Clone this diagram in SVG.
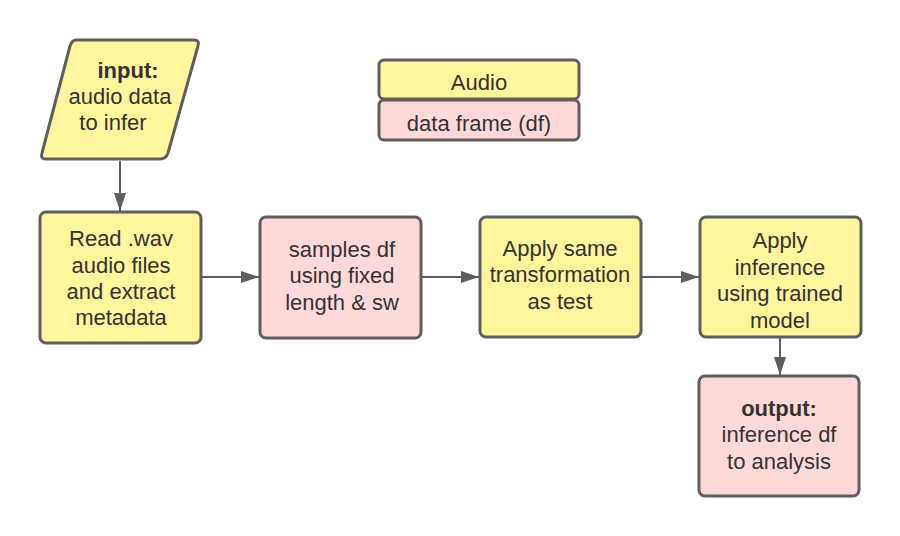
<svg xmlns="http://www.w3.org/2000/svg" width="900" height="536" viewBox="0 0 900 536">
<defs>
<style>
.y{fill:#fff59d;stroke:#5e5e5e;stroke-width:3}
.p{fill:#ffd9da;stroke:#5e5e5e;stroke-width:3}
text{font-family:"Liberation Sans",Arial,sans-serif;font-size:22px;fill:#333;text-anchor:middle}
.b{font-weight:bold}
.c{stroke:#5e5e5e;stroke-width:2;fill:none;marker-end:url(#a)}
</style>
<marker id="a" markerWidth="18" markerHeight="12" refX="18" refY="6" orient="auto" markerUnits="userSpaceOnUse" viewBox="0 0 18 12">
<path d="M0,0 L18,6 L0,12 z" fill="#5e5e5e"/>
</marker>
</defs>
<rect width="900" height="536" fill="#fff"/>
<g id="connectors">
<path class="c" d="M120,161 V211"/>
<path class="c" d="M202,277 H259"/>
<path class="c" d="M422,277 H479"/>
<path class="c" d="M642,277 H699"/>
<path class="c" d="M780,338 V375"/>
</g>
<g id="input">
<path class="y" d="M76,40 H194 Q200,40 198,46 L168,153 Q166,159 160,159 H46 Q40,159 42,153 L70,46 Q72,40 76,40 Z"/>
<text x="128" y="78" class="b">input:</text>
<text x="120" y="104">audio data</text>
<text x="113" y="130">to infer</text>
</g>
<g id="legend-audio">
<rect class="y" x="379" y="60" width="200" height="39" rx="5"/>
<text x="479" y="90">Audio</text>
</g>
<g id="legend-df">
<rect class="p" x="379" y="100" width="200" height="40" rx="5"/>
<text x="479" y="131">data frame (df)</text>
</g>
<g id="read">
<rect class="y" x="40" y="212" width="161" height="131" rx="6"/>
<text x="121" y="246">Read .wav</text>
<text x="121" y="273">audio files</text>
<text x="121" y="299">and extract</text>
<text x="121" y="325">metadata</text>
</g>
<g id="samples">
<rect class="p" x="260" y="217" width="161" height="121" rx="6"/>
<text x="342" y="257">samples df</text>
<text x="342" y="283">using fixed</text>
<text x="342" y="310">length &amp; sw</text>
</g>
<g id="transform">
<rect class="y" x="480" y="217" width="161" height="120" rx="6"/>
<text x="560" y="256">Apply same</text>
<text x="560" y="282">transformation</text>
<text x="560" y="309">as test</text>
</g>
<g id="inference">
<rect class="y" x="700" y="217" width="161" height="120" rx="6"/>
<text x="780" y="248">Apply</text>
<text x="780" y="275">inference</text>
<text x="780" y="301">using trained</text>
<text x="780" y="328">model</text>
</g>
<g id="output">
<rect class="p" x="699" y="376" width="160" height="120" rx="6"/>
<text x="779" y="416" class="b">output:</text>
<text x="779" y="442">inference df</text>
<text x="779" y="469">to analysis</text>
</g>
</svg>
